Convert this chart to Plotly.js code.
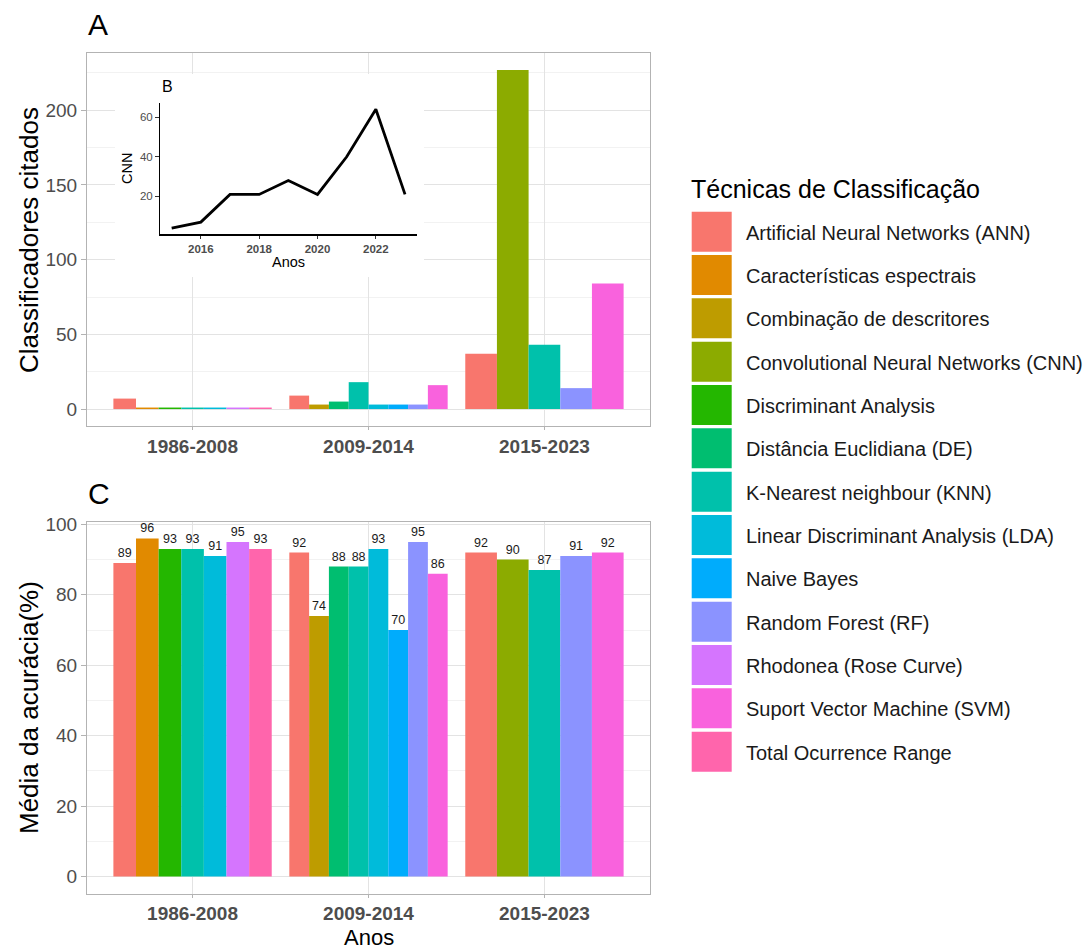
<!DOCTYPE html>
<html><head><meta charset="utf-8">
<script src="https://cdn.plot.ly/plotly-3.0.1.min.js"></script>
<style>html,body{margin:0;padding:0;background:#fff}#chart{width:1088px;height:950px}</style>
</head><body><div id="chart"></div>
<script>
// ---------- data ----------
const periods = ['1986-2008', '2009-2014', '2015-2023'];
const techniques = [
  'Artificial Neural Networks (ANN)',
  'Características espectrais',
  'Combinação de descritores',
  'Convolutional Neural Networks (CNN)',
  'Discriminant Analysis',
  'Distância Euclidiana (DE)',
  'K-Nearest neighbour (KNN)',
  'Linear Discriminant Analysis (LDA)',
  'Naive Bayes',
  'Random Forest (RF)',
  'Rhodonea (Rose Curve)',
  'Suport Vector Machine (SVM)',
  'Total Ocurrence Range'
];
const colors = ['#F8766D','#E18A00','#BE9C00','#8CAB00','#24B700','#00BE70','#00C1AB',
                '#00BBDA','#00ACFC','#8B93FF','#D575FE','#F962DD','#FF65AC'];
// citations (panel A), one value per technique, null = not used in period
const cites1986_2008 = [7, 1, null, null, 1, null, 1, 1, null, null, 1, null, 1];
const cites2009_2014 = [9, null, 3, null, null, 5, 18, 3, 3, 3, null, 16, null];
const cites2015_2023 = [37, null, null, 227, null, null, 43, null, null, 14, null, 84, null];
// mean accuracy (panel C)
const acc1986_2008 = [89, 96, null, null, 93, null, 93, 91, null, null, 95, null, 93];
const acc2009_2014 = [92, null, 74, null, null, 88, 88, 93, 70, 95, null, 86, null];
const acc2015_2023 = [92, null, null, 90, null, null, 87, null, null, 91, null, 92, null];
// inset B: CNN per year
const cnnYears = [2015, 2016, 2017, 2018, 2019, 2020, 2021, 2022, 2023];
const cnnCounts = [4, 7, 21, 21, 28, 21, 40, 64, 21];

// ---------- helpers ----------
const W = 1088, H = 950;
const px = x => x / W;
const py = y => 1 - y / H;
const FONT = 'Liberation Sans, Arial, Helvetica, sans-serif';

function dodgedBars(byPeriod, xa, ya, withText) {
  return techniques.map((t, ti) => {
    const xs = [], ys = [], ws = [], offs = [], txt = [];
    periods.forEach((p, pi) => {
      const vals = byPeriod[pi];
      if (vals[ti] === null) return;
      const present = vals.map((v, i) => v === null ? -1 : i).filter(i => i >= 0);
      const n = present.length, k = present.indexOf(ti), w = 0.9 / n;
      xs.push(p); ys.push(vals[ti]); ws.push(w); offs.push(-0.45 + k * w); txt.push(String(vals[ti]));
    });
    const tr = {
      type: 'bar', name: t, x: xs, y: ys, width: ws, offset: offs,
      xaxis: xa, yaxis: ya, showlegend: false, hoverinfo: 'x+y+name',
      marker: {color: colors[ti], line: {width: 0}}
    };
    if (withText) {
      tr.text = txt; tr.textposition = 'outside'; tr.constraintext = 'none'; tr.cliponaxis = false;
      tr.textfont = {family: FONT, size: 12.5, color: '#1a1a1a'};
      tr.outsidetextfont = {family: FONT, size: 12.5, color: '#1a1a1a'};
    } else {
      tr.textposition = 'none';
    }
    return tr;
  });
}

const traces = []
  .concat(dodgedBars([cites1986_2008, cites2009_2014, cites2015_2023], 'x', 'y', false))
  .concat(dodgedBars([acc1986_2008, acc2009_2014, acc2015_2023], 'x2', 'y2', true));
// white backdrop of the inset (empty subplot)
traces.push({type: 'scatter', x: [], y: [], xaxis: 'x3', yaxis: 'y3', showlegend: false, hoverinfo: 'skip'});
// inset line
traces.push({type: 'scatter', mode: 'lines', x: cnnYears, y: cnnCounts, xaxis: 'x4', yaxis: 'y4',
  line: {color: '#000', width: 2.8}, showlegend: false, cliponaxis: false});

function catAxis(dom, anchor) {
  return {
    domain: dom, anchor: anchor, type: 'category', categoryorder: 'array', categoryarray: periods,
    range: [-0.6, 2.6], showgrid: true, gridcolor: '#e3e3e3', gridwidth: 1,
    showline: true, mirror: true, linecolor: '#b3b3b3', linewidth: 1,
    ticks: 'outside', ticklen: 3, tickcolor: '#b3b3b3', tickwidth: 1,
    tickfont: {family: FONT, size: 19, color: '#4d4d4d', weight: 'bold'},
    zeroline: false, fixedrange: true
  };
}
function valAxis(dom, anchor, range, dtick) {
  return {
    domain: dom, anchor: anchor, range: range, dtick: dtick, tick0: 0,
    showgrid: true, gridcolor: '#e3e3e3', gridwidth: 1,
    minor: {dtick: dtick / 2, tick0: 0, showgrid: true, gridcolor: '#efefef', gridwidth: 0.8, ticks: ''},
    showline: true, mirror: true, linecolor: '#b3b3b3', linewidth: 1,
    ticks: 'outside', ticklen: 5, tickcolor: '#b3b3b3', tickwidth: 1,
    tickfont: {family: FONT, size: 19, color: '#4d4d4d'},
    zeroline: false, fixedrange: true
  };
}

const annotations = [
  {text: 'A', x: px(86), y: py(24), xanchor: 'left', yanchor: 'middle', font: {size: 30, color: '#000'}},
  {text: 'C', x: px(86), y: py(493), xanchor: 'left', yanchor: 'middle', font: {size: 30, color: '#000'}},
  {text: 'B', x: px(160), y: py(86.5), xanchor: 'left', yanchor: 'middle', font: {size: 16, color: '#000'}},
  {text: 'Classificadores citados', x: px(29), y: py(240), textangle: -90, xanchor: 'center', yanchor: 'middle', font: {size: 26, color: '#000'}},
  {text: 'Média da acurácia(%)', x: px(29), y: py(708), textangle: -90, xanchor: 'center', yanchor: 'middle', font: {size: 26, color: '#000'}},
  {text: 'Anos', x: px(368.5), y: py(937.5), xanchor: 'center', yanchor: 'middle', font: {size: 22, color: '#000'}},
  {text: 'CNN', x: px(127), y: py(169), textangle: -90, xanchor: 'center', yanchor: 'middle', font: {size: 14.5, color: '#000'}},
  {text: 'Anos', x: px(288), y: py(262), xanchor: 'center', yanchor: 'middle', font: {size: 14.5, color: '#000'}},
  {text: 'Técnicas de Classificação', x: px(689), y: py(189), xanchor: 'left', yanchor: 'middle', font: {size: 25, color: '#000'}}
];
const shapes = [];
techniques.forEach((t, i) => {
  const top = 211.7 + i * 43.33;
  shapes.push({type: 'rect', xref: 'paper', yref: 'paper', layer: 'above',
    x0: px(691.7), x1: px(731.7), y0: py(top + 40), y1: py(top),
    fillcolor: colors[i], line: {width: 0}});
  annotations.push({text: t, x: px(744), y: py(top + 21), xanchor: 'left', yanchor: 'middle',
    font: {size: 20, color: '#1a1a1a'}});
});
annotations.forEach(a => { a.xref = 'paper'; a.yref = 'paper'; a.showarrow = false; a.font.family = FONT; });

const layout = {
  width: W, height: H, autosize: false,
  margin: {l: 0, r: 0, t: 0, b: 0, pad: 0},
  paper_bgcolor: '#ffffff', plot_bgcolor: '#ffffff',
  font: {family: FONT, color: '#1a1a1a'},
  barmode: 'overlay', showlegend: false, hovermode: 'closest',
  xaxis: catAxis([px(87), px(650)], 'y'),
  yaxis: valAxis([py(426), py(53)], 'x', [-11.35, 238.35], 50),
  xaxis2: catAxis([px(87), px(650)], 'y2'),
  yaxis2: valAxis([py(893.5), py(521.5)], 'x2', [-4.8, 100.8], 20),
  xaxis3: {domain: [px(115), px(424)], anchor: 'y3', visible: false, range: [0, 1], fixedrange: true},
  yaxis3: {domain: [py(277), py(74)], anchor: 'x3', visible: false, range: [0, 1], fixedrange: true},
  xaxis4: {domain: [px(160), px(416.7)], anchor: 'y4', range: [2014.6, 2023.4],
    tickmode: 'array', tickvals: [2016, 2018, 2020, 2022],
    showgrid: false, zeroline: false, showline: true, linecolor: '#000', linewidth: 1.5,
    ticks: 'outside', ticklen: 3.5, tickcolor: '#333', tickwidth: 1.2,
    tickfont: {family: FONT, size: 11.5, color: '#4d4d4d', weight: 'bold'}, fixedrange: true},
  yaxis4: {domain: [py(234), py(103.3)], anchor: 'x4', range: [1, 67],
    tickmode: 'array', tickvals: [20, 40, 60],
    showgrid: false, zeroline: false, showline: true, linecolor: '#000', linewidth: 1.5,
    ticks: 'outside', ticklen: 3.5, tickcolor: '#333', tickwidth: 1.2,
    tickfont: {family: FONT, size: 11.5, color: '#4d4d4d'}, fixedrange: true},
  annotations: annotations,
  shapes: shapes
};

Plotly.newPlot('chart', traces, layout, {displayModeBar: false, staticPlot: true});
</script>
</body></html>
